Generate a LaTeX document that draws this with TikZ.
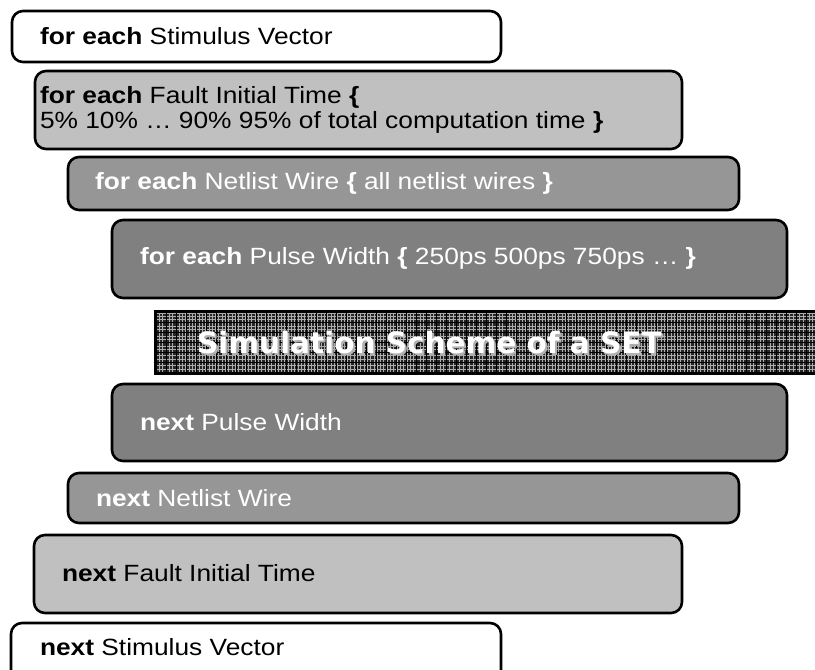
\documentclass[tikz,border=0pt]{standalone}
\usepackage{fontspec}
\setmainfont{Liberation Sans}[FakeStretch=1.12]
\newfontfamily\bannerfont{DejaVu Sans}
\usetikzlibrary{positioning}
\definecolor{lightbox}{HTML}{C0C0C0}
\definecolor{midbox}{HTML}{969696}
\definecolor{darkbox}{HTML}{808080}
\definecolor{bannerbg}{HTML}{262626}

\begin{document}
\begin{tikzpicture}[x=1pt, y=-1pt, every node/.style={inner sep=0pt, outer sep=0pt},
        loopbox/.style={draw=black, line width=2.6pt, rounded corners=11pt, anchor=north west},
        looptext/.style={anchor=west, align=left, font=\fontsize{23.5}{25}\selectfont}]
        \useasboundingbox (0,0) rectangle (815,670);
        \clip (0,0) rectangle (815,670);
        \node[loopbox, fill=white, minimum width=489, minimum height=51] (sv) at (12,11) {};
        \node[loopbox, fill=lightbox, minimum width=647, minimum height=78] (fit) at (35,71) {};
        \node[loopbox, fill=midbox, minimum width=671, minimum height=53] (nw) at (68,157) {};
        \node[loopbox, fill=darkbox, minimum width=675, minimum height=78] (pw) at (112,220) {};
        \node[draw=black, line width=1.6pt, fill=bannerbg, anchor=north west, minimum width=662, minimum height=63,
            path picture={
                \draw[gray!65, line width=0.45pt, step=3.3pt] (path picture bounding box.south west) grid (path picture bounding box.north east);
                \draw[black, line width=1pt, step=10pt] (path picture bounding box.south west) grid (path picture bounding box.north east);
            }] (banner) at (155,311) {};
        \node[loopbox, fill=darkbox, minimum width=675, minimum height=77] (npw) at (112,384) {};
        \node[loopbox, fill=midbox, minimum width=671, minimum height=50] (nnw) at (68,473) {};
        \node[loopbox, fill=lightbox, minimum width=648, minimum height=78] (nfit) at (34,535) {};
        \node[loopbox, fill=white, minimum width=490, minimum height=80] (nsv) at (11,623) {};

        \node[looptext] (svtext) at (40,36.5) {\textbf{for each} Stimulus Vector};
        \node[looptext] (fittext) at (40,110) {\textbf{for each} Fault Initial Time \textbf{\{}\\5\% 10\% … 90\% 95\% of total computation time \textbf{\}}};
        \node[looptext, text=white] (nwtext) at (95,183.5) {\textbf{for each} Netlist Wire \textbf{\{} all netlist wires \textbf{\}}};
        \node[looptext, text=white] (pwtext) at (140,258.5) {\textbf{for each} Pulse Width \textbf{\{} 250ps 500ps 750ps … \textbf{\}}};
        \node[anchor=west, text=gray!60, font=\bannerfont\bfseries\fontsize{29.5}{32}\selectfont] (titleshadow) at (199,344.5) {Simulation Scheme of a SET};
        \node[anchor=west, text=white, font=\bannerfont\bfseries\fontsize{29.5}{32}\selectfont] (title) at (197,342.5) {Simulation Scheme of a SET};
        \node[looptext, text=white] (npwtext) at (140,422.5) {\textbf{next} Pulse Width};
        \node[looptext, text=white] (nnwtext) at (96,498) {\textbf{next} Netlist Wire};
        \node[looptext] (nfittext) at (62,573) {\textbf{next} Fault Initial Time};
        \node[looptext] (nsvtext) at (40,647) {\textbf{next} Stimulus Vector};
    \end{tikzpicture}
\end{document}
